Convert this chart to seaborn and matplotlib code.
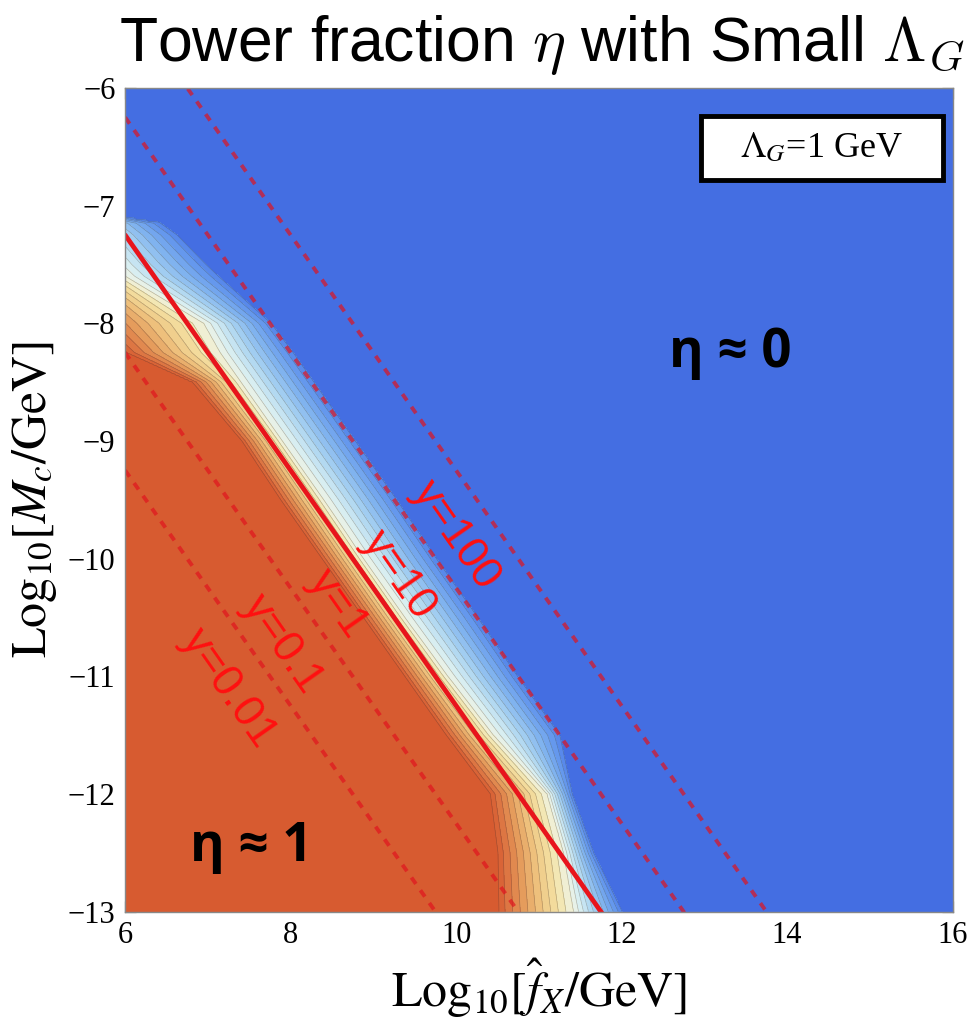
import numpy as np
import pandas as pd
import matplotlib
matplotlib.use("Agg")
import matplotlib.pyplot as plt
from matplotlib.colors import LinearSegmentedColormap
from matplotlib.patches import Rectangle
from matplotlib.ticker import MultipleLocator
import seaborn as sns

sns.set_theme(style="ticks")
plt.rcParams['mathtext.fontset'] = 'stix'
plt.rcParams['text.color'] = 'black'
plt.rcParams['axes.labelcolor'] = 'black'
plt.rcParams['xtick.labelcolor'] = 'black'
plt.rcParams['ytick.labelcolor'] = 'black'

# band edges: for each row Log10[Mc], the Log10[fX] where
# eta leaves 1 (red edge), passes ~0.5 (pale middle) and reaches 0 (blue edge)
rows_y = [-6.0, -6.5, -7.0, -7.1, -7.15, -7.25, -7.5, -7.6, -8.0, -8.25,
          -8.5, -9.0, -9.5, -10.0, -10.5, -11.0, -11.5, -12.0, -12.5, -13.0]
red_edge = [3.0, 3.6, 4.3, 4.45, 4.5, 4.65, 5.0, 5.15, 5.6, 6.0,
            6.8, 7.4, 7.87, 8.37, 8.87, 9.37, 9.87, 10.4, 10.49, 10.5]
mid_edge = [4.0, 4.6, 5.2, 5.35, 5.4, 5.55, 5.85, 6.0, 6.95, 7.15,
            7.4, 7.9, 8.4, 8.88, 9.38, 9.9, 10.45, 11.1, 11.3, 11.42]
blue_edge = [4.6, 5.2, 5.75, 6.0, 6.45, 6.65, 7.0, 7.15, 7.78, 8.05,
             8.3, 8.8, 9.3, 9.78, 10.28, 10.76, 11.27, 11.41, 11.67, 12.02]

# y = const lines: Log10[Mc] + Log10[fX] = c
line_names = ["y=100", "y=10", "y=1", "y=0.1", "y=0.01"]
line_consts = [0.75, -0.25, -1.25, -2.25, -3.25]
solid_line = "y=1"
label_pos = [(10.0, -9.8), (9.3, -10.14), (8.57, -10.39), (7.9, -10.73), (7.25, -11.1)]

x_ticks = [6, 8, 10, 12, 14, 16]
y_ticks = [-6, -7, -8, -9, -10, -11, -12, -13]

# build eta field from the edges
xg = np.linspace(6, 16, 601)
yg = np.linspace(-13, -6, 421)
X, Y = np.meshgrid(xg, yg)
ry = np.array(rows_y)[::-1]
r = np.interp(yg, ry, np.array(red_edge)[::-1])[:, None]
m = np.interp(yg, ry, np.array(mid_edge)[::-1])[:, None]
b = np.interp(yg, ry, np.array(blue_edge)[::-1])[:, None]
eta = np.where(X <= m,
               1 - 0.5 * np.clip((X - r) / (m - r), 0, 1),
               0.5 - 0.5 * np.clip((X - m) / (b - m), 0, 1))

cmap = LinearSegmentedColormap.from_list("tower", [
    (0.0, "#4169E1"), (0.03, "#5A8CEC"), (0.15, "#79ADEF"), (0.3, "#A9D3F1"),
    (0.42, "#D7EEF2"), (0.5, "#EEF3E4"), (0.6, "#F4E3A5"), (0.72, "#EEC27E"),
    (0.84, "#E49858"), (0.95, "#DB6C3D"), (1.0, "#D75A2F")])

fig = plt.figure(figsize=(9.7, 10.22), dpi=100)
ax = fig.add_axes([0.129, 0.108, 0.853, 0.806])

levels = [0, 0.01] + list(np.round(np.arange(0.05, 0.951, 0.05), 2)) + [0.99, 1.0]
ax.contourf(X, Y, eta, levels=levels, cmap=cmap)
ax.contour(X, Y, eta, levels=levels[1:-1], colors="#333333", linewidths=0.45, alpha=0.35)

xs = np.array([6.0, 16.0])
for name, c in zip(line_names, line_consts):
    df = pd.DataFrame({"x": xs, "y": c - xs})
    if name == solid_line:
        sns.lineplot(data=df, x="x", y="y", ax=ax, color="#E8141C", lw=3.4)
    else:
        sns.lineplot(data=df, x="x", y="y", ax=ax, color="#E0141E", lw=2.8,
                     alpha=0.7, linestyle=(0, (2.0, 2.0)))

for name, (px, py) in zip(line_names, label_pos):
    ax.text(px, py, name, color="#FF1010", fontsize=32, rotation=-55,
            rotation_mode="anchor", ha="center", va="center",
            family=["Liberation Sans", "DejaVu Sans"])

ax.text(13.31, -8.25, "η ≈ 0", fontsize=38, fontweight="bold",
        ha="center", va="center", family=["Open Sans", "DejaVu Sans"])
ax.text(7.53, -12.45, "η ≈ 1", fontsize=38, fontweight="bold",
        ha="center", va="center", family=["Open Sans", "DejaVu Sans"])

ax.add_patch(Rectangle((0.696, 0.888), 0.292, 0.078, transform=ax.transAxes,
                       fc="white", ec="black", lw=3.5, zorder=5))
ax.text(0.842, 0.926, r"$\Lambda_G$=1 GeV", transform=ax.transAxes, zorder=6,
        fontsize=26, ha="center", va="center", family="Liberation Serif")

ax.set_xlim(6, 16)
ax.set_ylim(-13, -6)
ax.set_xticks(x_ticks)
ax.set_yticks(y_ticks)
ax.set_xticklabels([str(v) for v in x_ticks])
ax.set_yticklabels([str(v).replace("-", "\u2212") for v in y_ticks])
ax.xaxis.set_minor_locator(MultipleLocator(0.5))
ax.yaxis.set_minor_locator(MultipleLocator(0.2))
ax.tick_params(which="both", direction="in", top=True, right=True, color="#777777")
ax.tick_params(which="major", length=8, width=0.9, labelsize=22, pad=7)
ax.tick_params(which="minor", length=4, width=0.7)
for lab in ax.get_xticklabels() + ax.get_yticklabels():
    lab.set_family("Liberation Serif")
for sp in ax.spines.values():
    sp.set_color("#888888")
    sp.set_linewidth(1.0)

ax.set_xlabel(r"$\mathrm{Log}_{10}[\hat{f}_X/\mathrm{GeV}]$", fontsize=36, labelpad=4)
ax.set_ylabel(r"$\mathrm{Log}_{10}[M_c/\mathrm{GeV}]$", fontsize=36, labelpad=6)

fig.text(0.558, 0.94, r"Tower fraction $\eta$ with Small $\Lambda_G$", fontsize=45,
         ha="center", va="baseline", family="Liberation Sans", math_fontfamily="cm")

fig.savefig("out.png", dpi=100)
